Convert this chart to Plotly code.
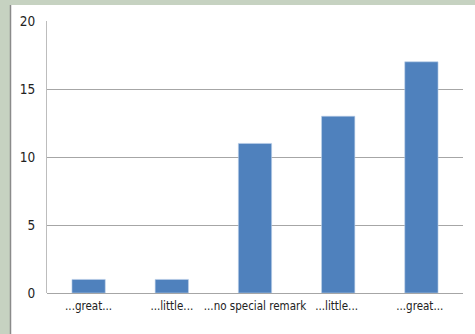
import plotly.graph_objects as go

categories = ["...great...", "...little...", "...no special remark", "...little... ", "...great... "]
values = [1, 1, 11, 13, 17]
y_ticks = [0, 5, 10, 15, 20]

W, H = 475, 334
L, R, T, B = 47, 463, 21, 293
pw, ph = R - L, B - T

def px_x(x):
    return (x - L) / pw

def px_y(y):
    return (B - y) / ph

FONT = "DejaVu Sans Condensed, Liberation Sans Narrow, sans-serif"

fig = go.Figure(go.Bar(
    x=categories, y=values,
    marker=dict(color="#4f81bd", line=dict(color="#bcd0ea", width=0.6)),
    width=0.4,
))

fig.update_layout(
    width=W, height=H,
    margin=dict(l=L, r=W - R, t=T, b=H - B, pad=0, autoexpand=False),
    paper_bgcolor="#c6d2c1",
    plot_bgcolor="rgba(0,0,0,0)",
    showlegend=False,
    font=dict(family=FONT, size=13, color="#222222"),
    shapes=[
        dict(type="rect", xref="paper", yref="paper", layer="below",
             x0=px_x(11), x1=px_x(W + 2), y0=px_y(H + 2), y1=px_y(5),
             fillcolor="white", line=dict(width=0)),
        dict(type="line", xref="paper", yref="paper", layer="below",
             x0=px_x(10.5), x1=px_x(10.5), y0=px_y(H + 2), y1=px_y(5),
             line=dict(color="#8a8a8a", width=1.5)),
    ],
)

fig.update_xaxes(
    type="category", automargin=False, tickangle=0,
    showgrid=False, showline=False, zeroline=False,
    ticks="", tickfont=dict(family=FONT, size=11.5, color="#222222"),
    ticklabelstandoff=4,
)
fig.update_yaxes(
    range=[0, 20], tickvals=y_ticks, automargin=False,
    showgrid=True, gridcolor="#a6a6a6", gridwidth=1,
    showline=True, linecolor="#bdbdbd", linewidth=1,
    zeroline=True, zerolinecolor="#a6a6a6", zerolinewidth=1,
    ticks="", tickfont=dict(family=FONT, size=13.5, color="#222222"),
    ticklabelstandoff=8,
)

fig.write_html("out.html")
